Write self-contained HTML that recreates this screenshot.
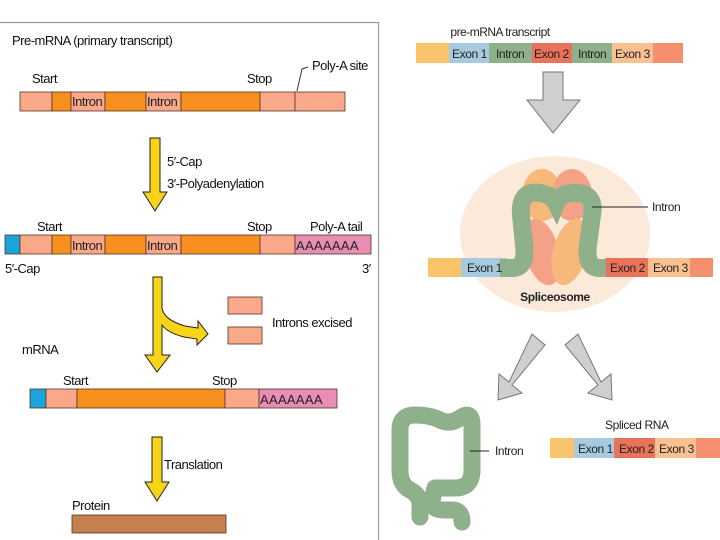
<!DOCTYPE html>
<html><head><meta charset="utf-8"><style>
html,body{margin:0;padding:0;background:#fff;}
svg{display:block;}
text{font-family:"Liberation Sans",sans-serif;}
</style></head><body>
<svg width="720" height="540" viewBox="0 0 720 540" xmlns="http://www.w3.org/2000/svg">
<rect x="0" y="0" width="720" height="540" fill="#fff"/>
<!-- left panel border -->
<path d="M0 22.5 H378.5 V540" fill="none" stroke="#999" stroke-width="1.2"/>
<g font-size="13" fill="#111" letter-spacing="-0.5">
<text x="12" y="45">Pre-mRNA (primary transcript)</text>
<text x="32" y="83">Start</text>
<text x="247" y="83">Stop</text>
<text x="312" y="70">Poly-A site</text>
<text x="167" y="166">5′-Cap</text>
<text x="167" y="188">3′-Polyadenylation</text>
<text x="37" y="231">Start</text>
<text x="247" y="231">Stop</text>
<text x="310" y="231">Poly-A tail</text>
<text x="5" y="273">5′-Cap</text>
<text x="362" y="273">3′</text>
<text x="272" y="327">Introns excised</text>
<text x="22" y="354">mRNA</text>
<text x="63" y="385">Start</text>
<text x="212" y="385">Stop</text>
<text x="164" y="469">Translation</text>
<text x="72" y="510">Protein</text>
</g>
<line x1="297" y1="91" x2="302" y2="69" stroke="#333" stroke-width="1"/>
<line x1="302" y1="69" x2="308" y2="67" stroke="#333" stroke-width="1"/>
<!-- bar1 -->
<g stroke="#553322" stroke-width="0.8">
<rect x="20" y="92" width="32" height="19" fill="#f9a98a"/>
<rect x="52" y="92" width="19" height="19" fill="#f7901e"/>
<rect x="71" y="92" width="34" height="19" fill="#f9a98a"/>
<rect x="105" y="92" width="41" height="19" fill="#f7901e"/>
<rect x="146" y="92" width="35" height="19" fill="#f9a98a"/>
<rect x="181" y="92" width="79" height="19" fill="#f7901e"/>
<rect x="260" y="92" width="35" height="19" fill="#f9a98a"/>
<rect x="295" y="92" width="50" height="19" fill="#f9a98a"/>
<!-- bar2 -->
<rect x="5" y="235" width="15" height="19" fill="#1ba3dc"/>
<rect x="20" y="235" width="32" height="19" fill="#f9a98a"/>
<rect x="52" y="235" width="19" height="19" fill="#f7901e"/>
<rect x="71" y="235" width="34" height="19" fill="#f9a98a"/>
<rect x="105" y="235" width="41" height="19" fill="#f7901e"/>
<rect x="146" y="235" width="35" height="19" fill="#f9a98a"/>
<rect x="181" y="235" width="79" height="19" fill="#f7901e"/>
<rect x="260" y="235" width="35" height="19" fill="#f9a98a"/>
<rect x="295" y="235" width="76" height="19" fill="#e98db3"/>
<!-- excised -->
<rect x="228" y="297" width="34" height="17" fill="#f9a98a"/>
<rect x="228" y="327" width="34" height="17" fill="#f9a98a"/>
<!-- bar3 -->
<rect x="30" y="389" width="16" height="19" fill="#1ba3dc"/>
<rect x="46" y="389" width="31" height="19" fill="#f9a98a"/>
<rect x="77" y="389" width="148" height="19" fill="#f7901e"/>
<rect x="225" y="389" width="34" height="19" fill="#f9a98a"/>
<rect x="259" y="389" width="78" height="19" fill="#e98db3"/>
<rect x="72" y="515" width="154" height="18" fill="#c4804f"/>
</g>
<g font-size="13" fill="#222" letter-spacing="-0.5">
<text x="72" y="106">Intron</text><text x="147" y="106">Intron</text>
<text x="72" y="250">Intron</text><text x="147" y="250">Intron</text>
<text x="296" y="250" letter-spacing="0.3">AAAAAAA</text>
<text x="260" y="404" letter-spacing="0.3">AAAAAAA</text>
</g>
<!-- yellow arrows -->
<g fill="#f7d417" stroke="#222" stroke-width="1">
<path d="M150 138 H160 V192 H167 L155 211 L143 192 H150 Z"/>
<path d="M153 277 H162 V308 Q164 320 185 326 L198 328 V321 L208 334 L197 345 V339 L184 337 Q168 333 162 325 V355 H170 L157 372 L145 355 H153 Z"/>
<path d="M152 437 H162 V482 H169 L157 501 L145 482 H152 Z"/>
</g>
<!-- right panel -->
<text x="500" y="36" font-size="12" fill="#222" text-anchor="middle" letter-spacing="-0.5">pre-mRNA transcript</text>
<g>
<rect x="416" y="43" width="33" height="20" fill="#f9c46b"/>
<rect x="449" y="43" width="40" height="20" fill="#a6cbe0"/>
<rect x="489" y="43" width="43" height="20" fill="#8eb08a"/>
<rect x="532" y="43" width="40" height="20" fill="#e8735a"/>
<rect x="572" y="43" width="40" height="20" fill="#8eb08a"/>
<rect x="612" y="43" width="41" height="20" fill="#f9c18f"/>
<rect x="653" y="43" width="30" height="20" fill="#f58f6d"/>
</g>
<g font-size="12" fill="#222" letter-spacing="-0.4">
<text x="452" y="58">Exon 1</text><text x="496" y="58">Intron</text>
<text x="534" y="58">Exon 2</text><text x="578" y="58">Intron</text>
<text x="615" y="58">Exon 3</text>
</g>
<g fill="#cfcfcf" stroke="#777" stroke-width="1">
<path d="M543 72 H563 V100 H580 L553 133 L527 100 H543 Z"/>
<path d="M532 334 L545 345 L512 385 L522 393 L498 400 L499 374 L509 382 Z"/>
<path d="M578 334 L565 345 L598 385 L588 393 L612 400 L611 374 L601 382 Z"/>
</g>
<ellipse cx="555" cy="234" rx="95" ry="78" fill="#fbe9da"/>
<rect x="428" y="258" width="33" height="19" fill="#f9c46b"/>
<rect x="461" y="258" width="46" height="19" fill="#a6cbe0"/>
<rect x="605" y="258" width="43" height="19" fill="#e8735a"/>
<rect x="648" y="258" width="42" height="19" fill="#f9c18f"/>
<rect x="690" y="258" width="23" height="19" fill="#f58f6d"/>
<!-- lobes -->
<ellipse cx="542" cy="195" rx="20" ry="26" fill="#f8b87a"/>
<ellipse cx="572" cy="195" rx="20" ry="26" fill="#f4a287"/>
<ellipse cx="542" cy="252" rx="17" ry="34" fill="#f4a287" transform="rotate(-15 542 252)"/>
<ellipse cx="570" cy="252" rx="17" ry="34" fill="#f8b87a" transform="rotate(15 570 252)"/>
<path d="M500 268 L512 268 Q527 268 524 245 L521 215 Q519 190 540 193 Q552 195 556 203 Q560 193 575 193 Q596 193 592 215 L588 245 Q585 268 600 268 L606 268" fill="none" stroke="#8eb08a" stroke-width="18"/>
<line x1="592" y1="207" x2="648" y2="207" stroke="#222" stroke-width="1"/>
<g font-size="12" fill="#222" letter-spacing="-0.4">
<text x="652" y="211">Intron</text>
<text x="467" y="272">Exon 1</text>
<text x="610" y="272">Exon 2</text>
<text x="653" y="272">Exon 3</text>
<text x="555" y="301" text-anchor="middle" font-weight="bold">Spliceosome</text>
<text x="605" y="429">Spliced RNA</text>
<text x="495" y="455">Intron</text>
<text x="578" y="453">Exon 1</text>
<text x="619" y="453">Exon 2</text>
<text x="659" y="453">Exon 3</text>
</g>
<!-- intron loop -->
<path d="M420 517 L420 505 Q420 495 410 490 Q400 485 400 470 L400 430 Q400 415 415 415 Q430 415 440 420 Q450 425 460 418 Q472 410 472 425 L472 470 Q472 488 455 488 L435 488 L432 500 Q430 510 445 510 L452 510 Q462 510 462 522" fill="none" stroke="#8eb08a" stroke-width="17" stroke-linejoin="round" stroke-linecap="round"/>
<line x1="470" y1="451" x2="489" y2="451" stroke="#222" stroke-width="1"/>
<rect x="550" y="438" width="24" height="20" fill="#f9c46b"/>
<rect x="574" y="438" width="40" height="20" fill="#a6cbe0"/>
<rect x="614" y="438" width="41" height="20" fill="#e8735a"/>
<rect x="655" y="438" width="41" height="20" fill="#f9c18f"/>
<rect x="696" y="438" width="24" height="20" fill="#f58f6d"/>
<g font-size="12" fill="#222" letter-spacing="-0.4">
<text x="578" y="453">Exon 1</text>
<text x="619" y="453">Exon 2</text>
<text x="659" y="453">Exon 3</text>
</g>
</svg>
</body></html>
